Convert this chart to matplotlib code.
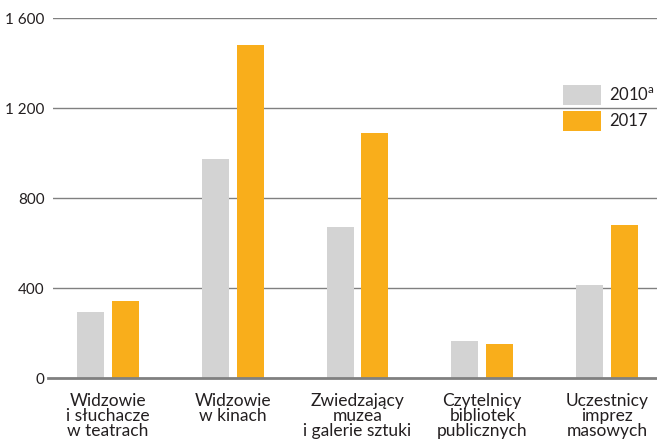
import matplotlib
matplotlib.use("Agg")
import matplotlib.pyplot as plt
import numpy as np

categories = ["Widzowie\ni słuchacze\nw teatrach", "Widzowie\nw kinach",
              "Zwiedzający\nmuzea\ni galerie sztuki", "Czytelnicy\nbibliotek\npublicznych",
              "Uczestnicy\nimprez\nmasowych"]
values_2010 = [295, 973, 671, 164, 413]
values_2017 = [342, 1480, 1089, 151, 680]
yticks = [0, 400, 800, 1200, 1600]
ytick_labels = ["0", "400", "800", "1 200", "1 600"]

plt.rcParams['font.family'] = ['Lato', 'DejaVu Sans']
plt.rcParams['mathtext.fontset'] = 'custom'
plt.rcParams['mathtext.rm'] = 'Lato'

fig = plt.figure(figsize=(6.57, 4.43), dpi=100)
L = 53
ax = fig.add_axes([L/657, (443-378)/443, 1-L/657, (378-18)/443])

x = np.arange(len(categories))
w = 0.216
off = 0.14
grey = "#d3d3d3"
orange = "#f9ae1b"
txt = "#231f20"
ax.bar(x - off, values_2010, w, color=grey, label="2010$^{\\mathrm{a}}$", zorder=3)
ax.bar(x + off, values_2017, w, color=orange, label="2017", zorder=3)

ax.set_xlim(-0.44, 4.4)
ax.set_ylim(0, 1600)
ax.set_yticks(yticks)
ax.set_yticklabels(ytick_labels, fontsize=11)
ax.set_xticks(x)
ax.set_xticklabels(categories, fontsize=12.5, linespacing=0.93, color=txt)
ax.tick_params(axis='x', length=0, pad=11)
ax.tick_params(axis='y', length=0, pad=6, colors=txt)
for s in ax.spines.values():
    s.set_visible(False)
for yv in yticks[1:]:
    ax.axhline(yv, color="#808080", lw=1.0, zorder=1)
ax.axhline(0, color="#808080", lw=2.0, zorder=4, xmin=-5/604, clip_on=False)

leg = ax.legend(loc="upper left", bbox_to_anchor=((563-L)/604, 1-(85-18)/360),
                frameon=False, fontsize=12, handlelength=2.3, handleheight=1.47,
                handletextpad=0.45, labelspacing=0.35, borderaxespad=0, borderpad=0)
for t in leg.get_texts():
    t.set_color(txt)

fig.savefig("out.png", dpi=100)
